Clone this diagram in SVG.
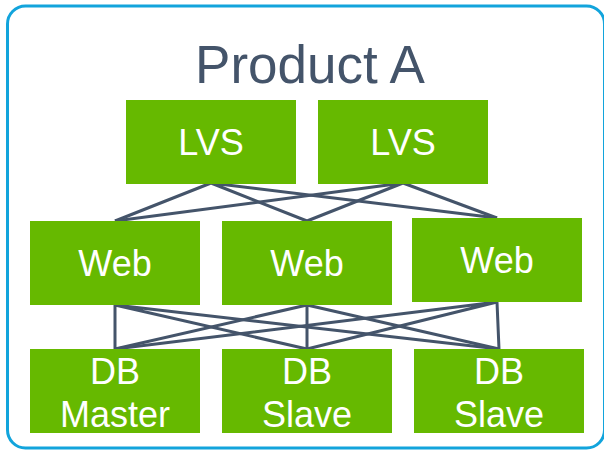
<svg xmlns="http://www.w3.org/2000/svg" width="604" height="450" viewBox="0 0 604 450">
<style>
.box{fill:#66b900}
.lbl{font-family:"Liberation Sans",Arial,sans-serif;font-size:36px;fill:#ffffff;text-anchor:middle}
.conn{stroke:#44546a;stroke-width:3;fill:none;stroke-linejoin:round}
</style>
<rect x="7.5" y="6" width="597" height="442" rx="18" ry="18" fill="#ffffff" stroke="#12a4dc" stroke-width="3"/>
<text x="310" y="83" font-family="'Liberation Sans',Arial,sans-serif" font-size="53" fill="#44546a" text-anchor="middle">Product A</text>
<g id="connectors" class="conn">
<path d="M211,183 L115,221 M211,183 L307,221 M211,183 L497,218"/>
<path d="M403,183 L115,221 M403,183 L307,221 M403,183 L497,218"/>
<path d="M115,305 L115,349 M115,305 L307,349 M115,305 L499,349"/>
<path d="M307,305 L115,349 M307,305 L307,349 M307,305 L499,349"/>
<path d="M497,302 L115,349 M497,302 L307,349 M497,302 L499,349"/>
</g>
<g id="lvs1"><rect class="box" x="126" y="100" width="170" height="84"/><text class="lbl" x="211" y="155">LVS</text></g>
<g id="lvs2"><rect class="box" x="318" y="100" width="170" height="84"/><text class="lbl" x="403" y="155">LVS</text></g>
<g id="web1"><rect class="box" x="30" y="221" width="170" height="84"/><text class="lbl" x="115" y="276">Web</text></g>
<g id="web2"><rect class="box" x="222" y="221" width="170" height="84"/><text class="lbl" x="307" y="276">Web</text></g>
<g id="web3"><rect class="box" x="412" y="218" width="170" height="84"/><text class="lbl" x="497" y="273">Web</text></g>
<g id="db1"><rect class="box" x="30" y="349" width="170" height="84"/><text class="lbl" x="115" y="384">DB</text><text class="lbl" x="115" y="427">Master</text></g>
<g id="db2"><rect class="box" x="222" y="349" width="170" height="84"/><text class="lbl" x="307" y="384">DB</text><text class="lbl" x="307" y="427">Slave</text></g>
<g id="db3"><rect class="box" x="414" y="349" width="170" height="84"/><text class="lbl" x="499" y="384">DB</text><text class="lbl" x="499" y="427">Slave</text></g>
</svg>
